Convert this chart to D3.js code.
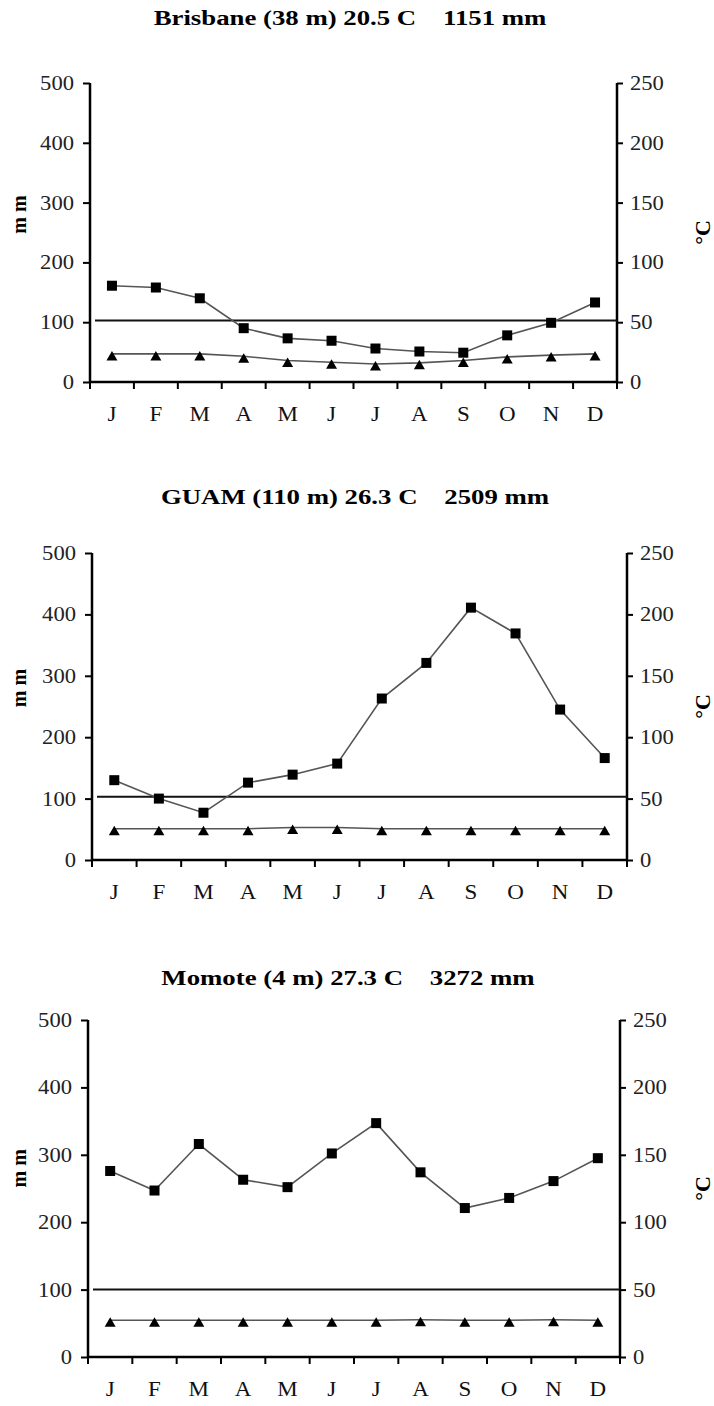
<!DOCTYPE html>
<html>
<head>
<meta charset="utf-8">
<script src="https://cdn.jsdelivr.net/npm/d3@7"></script>
<style>
body { margin: 0; background: #fff; }
svg text { font-family: "Liberation Serif", "DejaVu Serif", serif; }
</style>
</head>
<body>
<script>
var months = ["J","F","M","A","M","J","J","A","S","O","N","D"];
var mmTicks = [0, 100, 200, 300, 400, 500];
var cTicks = [0, 50, 100, 150, 200, 250];

var titles = ["Brisbane (38 m) 20.5 C    1151 mm",
              "GUAM (110 m) 26.3 C    2509 mm",
              "Momote (4 m) 27.3 C    3272 mm"];

// precipitation, mm
var brisbanePrecip = [161, 158, 140, 90, 73, 69, 56, 51, 49, 78, 99, 133];
var guamPrecip = [130, 100, 77, 126, 139, 157, 263, 321, 411, 369, 245, 166];
var momotePrecip = [276, 247, 316, 263, 252, 302, 347, 274, 221, 236, 261, 295];

// temperature, C
var brisbaneTemp = [23.5, 23.5, 23.5, 21.5, 18, 16.5, 15, 16, 18, 21, 22.5, 23.5];
var guamTemp = [25.5, 25.5, 25.5, 25.5, 26.5, 26.5, 25.5, 25.5, 25.5, 25.5, 25.5, 25.5];
var momoteTemp = [27.3, 27.3, 27.3, 27.3, 27.3, 27.3, 27.3, 27.6, 27.3, 27.3, 27.6, 27.3];

// horizontal reference line, mm
var thresholds = [103, 103, 100];

var panels = [
  {title: titles[0], precip: brisbanePrecip, temp: brisbaneTemp, thr: thresholds[0],
   x0: 90, x1: 617, top: 83, bottom: 382, titleY: 18, titleX: 350},
  {title: titles[1], precip: guamPrecip, temp: guamTemp, thr: thresholds[1],
   x0: 92, x1: 627, top: 553, bottom: 860, titleY: 497, titleX: 355},
  {title: titles[2], precip: momotePrecip, temp: momoteTemp, thr: thresholds[2],
   x0: 88, x1: 620, top: 1020, bottom: 1357, titleY: 978, titleX: 348}
];

var svg = d3.select("body").append("svg")
  .attr("width", 714)
  .attr("height", 1406);

// the source figure is stretched sideways, so text is widened a little
function stretch(sel, s) {
  sel.each(function() {
    var t = d3.select(this);
    var tx = +t.attr("x") || 0;
    t.attr("x", 0).attr("transform", "translate(" + tx + ",0) scale(" + s + ",1)");
  });
}

function drawPanel(p) {
  var g = svg.append("g");
  var x = d3.scaleBand().domain(d3.range(12)).range([p.x0, p.x1]);
  var y = d3.scaleLinear().domain([0, 500]).range([p.bottom, p.top]);
  var yc = d3.scaleLinear().domain([0, 250]).range([p.bottom, p.top]);
  var cx = i => x(i) + x.bandwidth() / 2;

  g.append("text")
    .attr("transform", "translate(" + p.titleX + "," + p.titleY + ") scale(1.34,1)")
    .attr("text-anchor", "middle")
    .attr("dominant-baseline", "central")
    .attr("font-weight", "bold")
    .attr("font-size", "20px")
    .style("white-space", "pre")
    .text(p.title);

  // left axis
  var left = g.append("g").attr("transform", "translate(" + p.x0 + ",0)")
    .call(d3.axisLeft(y).tickValues(mmTicks).tickSize(7).tickPadding(9).tickFormat(d3.format("d")));
  // right axis
  var right = g.append("g").attr("transform", "translate(" + p.x1 + ",0)")
    .call(d3.axisRight(yc).tickValues(cTicks).tickSize(6).tickPadding(7).tickFormat(d3.format("d")));
  // x axis with ticks on band edges
  var edges = d3.range(13).map(i => p.x0 + i * x.bandwidth());
  var bx = g.append("g").attr("transform", "translate(0," + p.bottom + ")");
  bx.append("line").attr("x1", p.x0).attr("x2", p.x1).attr("stroke", "#000").attr("stroke-width", 2.5);
  bx.selectAll("line.t").data(edges).enter().append("line")
    .attr("class", "t")
    .attr("x1", d => d).attr("x2", d => d)
    .attr("y1", 0).attr("y2", 7)
    .attr("stroke", "#000").attr("stroke-width", 2);
  bx.selectAll("text").data(months).enter().append("text")
    .attr("transform", (d, i) => "translate(" + cx(i) + ",39) scale(1.15,1)")
    .attr("text-anchor", "middle")
    .attr("font-size", "20px")
    .attr("fill", "#111")
    .text(d => d);

  [left, right].forEach(function(a) {
    a.select(".domain").attr("stroke", "#000").attr("stroke-width", 2.5)
      .attr("d", "M0," + p.top + "V" + p.bottom);
    a.selectAll(".tick line").attr("stroke", "#000").attr("stroke-width", 2);
    var tt = a.selectAll(".tick text").attr("font-size", "20px").attr("fill", "#222");
    stretch(tt, 1.13);
  });

  g.append("text")
    .attr("transform", "translate(19," + (p.top + (p.bottom - p.top) * 0.44) + ") rotate(-90)")
    .attr("text-anchor", "middle")
    .attr("dominant-baseline", "central")
    .attr("font-weight", "bold")
    .attr("font-size", "20px")
    .text("m m");
  g.append("text")
    .attr("transform", "translate(702," + (p.top + (p.bottom - p.top) * 0.5) + ") rotate(-90)")
    .attr("text-anchor", "middle")
    .attr("dominant-baseline", "central")
    .attr("font-weight", "bold")
    .attr("font-size", "22px")
    .text("°C");

  // reference line
  g.append("line")
    .attr("x1", p.x0 + 5).attr("x2", p.x1)
    .attr("y1", y(p.thr)).attr("y2", y(p.thr))
    .attr("stroke", "#111").attr("stroke-width", 2);

  // temperature series
  g.append("path")
    .datum(p.temp)
    .attr("fill", "none").attr("stroke", "#555").attr("stroke-width", 1.6)
    .attr("d", d3.line().x((d, i) => cx(i)).y(d => yc(d)));
  g.selectAll("path.tri").data(p.temp).enter().append("path")
    .attr("class", "tri")
    .attr("d", (d, i) => {
      var px = cx(i), py = yc(d) + 2;
      return "M" + px + "," + (py - 5) + "L" + (px + 5.5) + "," + (py + 4.5) + "L" + (px - 5.5) + "," + (py + 4.5) + "Z";
    })
    .attr("fill", "#000");

  // precipitation series
  g.append("path")
    .datum(p.precip)
    .attr("fill", "none").attr("stroke", "#555").attr("stroke-width", 1.6)
    .attr("d", d3.line().x((d, i) => cx(i)).y(d => y(d)));
  g.selectAll("rect.sq").data(p.precip).enter().append("rect")
    .attr("class", "sq")
    .attr("x", (d, i) => cx(i) - 5)
    .attr("y", d => y(d) - 5)
    .attr("width", 10).attr("height", 10)
    .attr("fill", "#000");
}

panels.forEach(drawPanel);
</script>
</body>
</html>
